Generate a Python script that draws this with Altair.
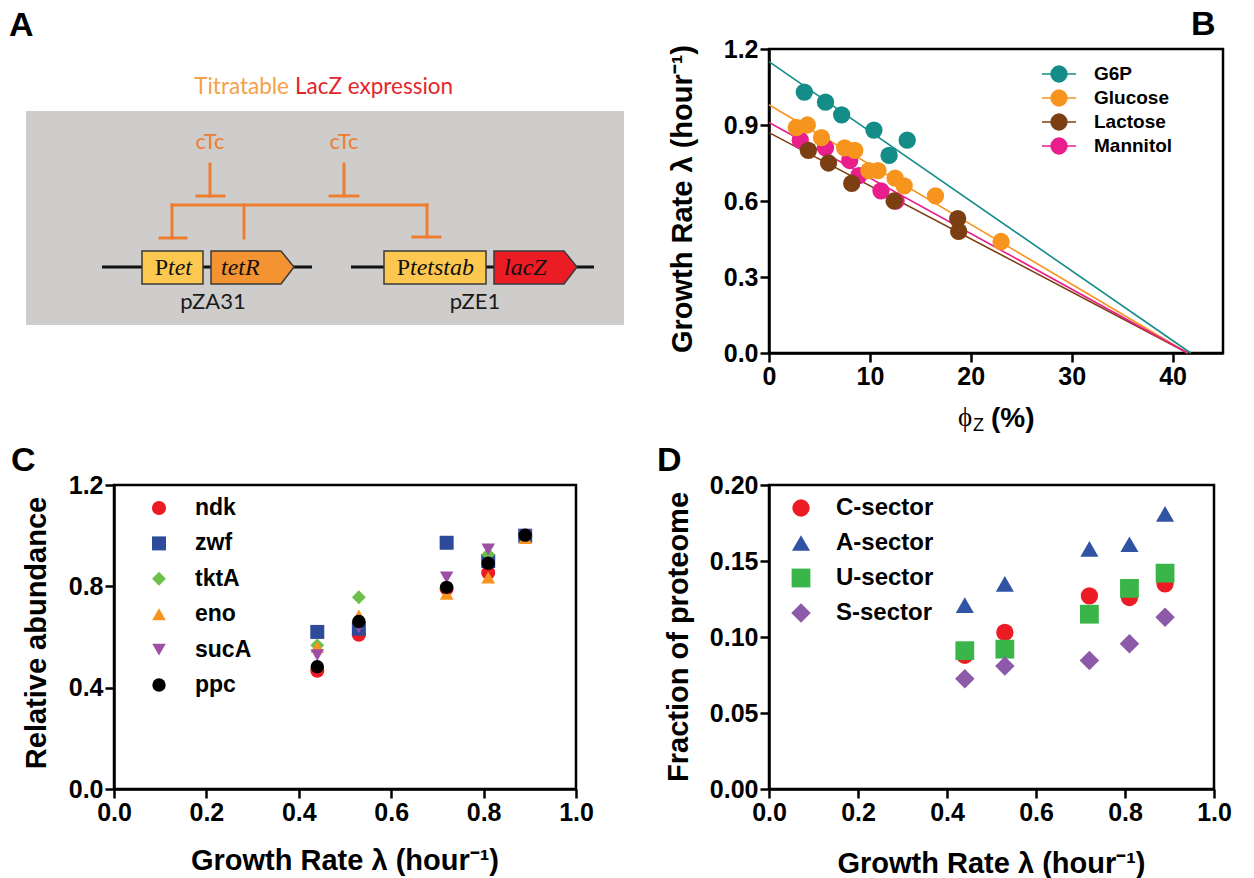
import altair as alt
import pandas as pd

SANS = "Liberation Sans, Arial, Helvetica, sans-serif"
SERIF = "Liberation Serif, Times New Roman, DejaVu Serif, serif"
CAL = "Lato, Carlito, Calibri, sans-serif"

# ---------------- Panel B data ----------------
B_SERIES = ["G6P", "Glucose", "Lactose", "Mannitol"]
B_COLORS = ["#148c87", "#f7941e", "#7b3f12", "#e91e8c"]
g6p_phi = [3.5, 5.6, 7.2, 10.4, 11.9, 13.7]
g6p_rate = [1.03, 0.99, 0.94, 0.88, 0.78, 0.84]
glucose_phi = [2.7, 3.8, 5.2, 7.5, 8.5, 9.9, 10.8, 12.5, 13.4, 16.5, 23.0]
glucose_rate = [0.89, 0.90, 0.85, 0.81, 0.80, 0.72, 0.72, 0.69, 0.66, 0.62, 0.44]
lactose_phi = [3.9, 5.9, 8.2, 12.4, 18.7, 18.8]
lactose_rate = [0.80, 0.75, 0.67, 0.60, 0.53, 0.48]
mannitol_phi = [3.1, 5.6, 8.0, 8.9, 11.1, 12.6]
mannitol_rate = [0.84, 0.81, 0.76, 0.70, 0.64, 0.60]
fit_intercept = [1.15, 0.98, 0.87, 0.91]
fit_phi_max = [41.8, 41.5, 41.5, 41.5]
B_XTICKS = [0, 10, 20, 30, 40]
B_YTICKS = [0.0, 0.3, 0.6, 0.9, 1.2]

# ---------------- Panel C data ----------------
C_RATE = [0.44, 0.53, 0.72, 0.81, 0.89]
C_GENES = ["ndk", "zwf", "tktA", "eno", "sucA", "ppc"]
C_COLORS = ["#ed1c24", "#2e4b9b", "#6cc04a", "#f7941d", "#9e4fa5", "#000000"]
C_SHAPES = ["circle", "square", "diamond", "triangle-up", "triangle-down", "circle"]
C_SIZES = [200, 180, 290, 200, 200, 200]
ndk = [0.467, 0.609, 0.790, 0.854, 0.998]
zwf = [0.620, 0.633, 0.972, 0.900, 1.000]
tktA = [0.567, 0.757, 0.790, 0.926, 1.000]
eno = [0.561, 0.685, 0.770, 0.835, 0.991]
sucA = [0.528, 0.639, 0.835, 0.946, 1.000]
ppc = [0.483, 0.661, 0.796, 0.891, 1.002]
C_XTICKS = [0.0, 0.2, 0.4, 0.6, 0.8, 1.0]
C_YTICKS = [0.0, 0.4, 0.8, 1.2]

# ---------------- Panel D data ----------------
D_RATE = [0.44, 0.53, 0.72, 0.81, 0.89]
D_SECTORS = ["C-sector", "A-sector", "U-sector", "S-sector"]
D_COLORS = ["#ed1c24", "#3153a4", "#39b54a", "#8c5aa8"]
D_SHAPES = ["circle", "triangle-up", "square", "diamond"]
D_SIZES = [300, 380, 280, 440]
c_sector = [0.088, 0.103, 0.127, 0.126, 0.135]
a_sector = [0.121, 0.135, 0.158, 0.161, 0.181]
u_sector = [0.091, 0.092, 0.115, 0.132, 0.142]
s_sector = [0.0725, 0.081, 0.0845, 0.0955, 0.113]
D_XTICKS = [0.0, 0.2, 0.4, 0.6, 0.8, 1.0]
D_YTICKS = [0.0, 0.05, 0.10, 0.15, 0.20]

# ---------------- Panel A diagram (diagram units) ----------------
A_BG = {"x0": [0, 25], "y0": [0, 110], "x1": [640, 623], "y1": [440, 324],
        "fill": ["#ffffff", "#cfcdcc"]}
A_BOX = {"x0": [141, 383], "y0": [250, 250], "x1": [202, 485], "y1": [283, 283],
         "fill": ["#fdc84f", "#fdc84f"]}
A_ARROW = {"gene": ["tetR"] * 3 + ["lacZ"] * 3,
           "x": [210, 280, 293, 493, 563, 576],
           "ytop": [250, 250, 266, 250, 250, 266],
           "ybot": [283, 283, 266, 283, 283, 266],
           "fill": ["#f49331"] * 3 + ["#ec1c24"] * 3}
A_DNA = {"x0": [101, 350], "y0": [266, 266], "x1": [311, 593], "y1": [266, 266]}
A_REPRESS = {"x0": [209, 196, 343, 329, 171, 171, 159, 243, 426, 412],
             "y0": [163, 195, 163, 195, 204, 204, 237, 204, 204, 236],
             "x1": [209, 223, 343, 357, 426, 171, 185, 243, 426, 439],
             "y1": [195, 195, 195, 195, 204, 237, 237, 237, 236, 236]}

W_AC, H_ROW = 462, 304
W_B, W_D = 454, 445


def axis(values, fmt):
    return alt.Axis(values=values, format=fmt, title=None, grid=False,
                    labelFlush=False, labelOverlap=False)


def text_layer(text, x, y, size, font=SANS, weight="bold", style="normal",
               angle=0, align="center", baseline="middle", color="black"):
    return alt.Chart(pd.DataFrame({"t": [text]})).mark_text(
        font=font, fontSize=size, fontWeight=weight, fontStyle=style,
        angle=angle, align=align, baseline=baseline, color=color
    ).encode(x=alt.value(x), y=alt.value(y), text="t:N")


def legend_layer(names, colors, shapes, sizes, sym_x, lab_x, y0, step, fsize,
                 line_half=None):
    n = len(names)
    df = pd.DataFrame({"name": names, "idx": list(range(n))})
    ysc = alt.Y("idx:Q", axis=None,
                scale=alt.Scale(domain=[0, n - 1], range=[y0, y0 + step * (n - 1)],
                                nice=False, zero=False))
    col = alt.Color("name:N", scale=alt.Scale(domain=names, range=colors), legend=None)
    base = alt.Chart(df)
    layers = []
    if line_half is not None:
        layers.append(base.mark_rule(strokeWidth=1.6).encode(
            x=alt.value(sym_x - line_half), x2=alt.value(sym_x + line_half), y=ysc, color=col))
    layers.append(base.mark_point(filled=True, opacity=1, strokeWidth=0).encode(
        x=alt.value(sym_x), y=ysc, color=col,
        shape=alt.Shape("name:N", scale=alt.Scale(domain=names, range=shapes), legend=None),
        size=alt.Size("name:N", scale=alt.Scale(domain=names, range=sizes), legend=None)))
    layers.append(base.mark_text(align="left", baseline="middle", font=SANS, fontSize=fsize,
                                 fontWeight="bold", color="black").encode(
        x=alt.value(lab_x), y=ysc, text="name:N"))
    return alt.layer(*layers)


FRAME = alt.ViewBackground(stroke="black", strokeWidth=2.5)

# ---------------- Panel A ----------------
AX = alt.Scale(domain=[113, 113 + W_AC], nice=False, zero=False)
AY = alt.Scale(domain=[48, 48 + H_ROW], nice=False, zero=False, reverse=True)


def ax_(f):
    return alt.X(f, scale=AX, axis=None)


def ay_(f):
    return alt.Y(f, scale=AY, axis=None, stack=None)


def a_text(rows, font, size, weight="normal", style="normal", align="center",
           baseline="alphabetic"):
    df = pd.DataFrame(rows, columns=["t", "x", "y", "c"])
    return alt.Chart(df).mark_text(font=font, fontSize=size, fontWeight=weight,
                                   fontStyle=style, align=align, baseline=baseline).encode(
        x=ax_("x:Q"), y=ay_("y:Q"), text="t:N", color=alt.Color("c:N", scale=None))


a_bg = alt.Chart(pd.DataFrame(A_BG)).mark_rect(opacity=1).encode(
    x=ax_("x0:Q"), x2="x1:Q", y=ay_("y0:Q"), y2="y1:Q", color=alt.Color("fill:N", scale=None))
a_dna = alt.Chart(pd.DataFrame(A_DNA)).mark_rule(color="#111111", strokeWidth=3).encode(
    x=ax_("x0:Q"), x2="x1:Q", y=ay_("y0:Q"), y2="y1:Q")
a_rep = alt.Chart(pd.DataFrame(A_REPRESS)).mark_rule(color="#ed7d31", strokeWidth=3,
                                                     strokeCap="square").encode(
    x=ax_("x0:Q"), x2="x1:Q", y=ay_("y0:Q"), y2="y1:Q")
a_box = alt.Chart(pd.DataFrame(A_BOX)).mark_rect(opacity=1, stroke="#3a3a3a",
                                                 strokeWidth=1.5).encode(
    x=ax_("x0:Q"), x2="x1:Q", y=ay_("y0:Q"), y2="y1:Q", color=alt.Color("fill:N", scale=None))
a_arrow = alt.Chart(pd.DataFrame(A_ARROW)).mark_area(opacity=1, stroke="#3a3a3a",
                                                     strokeWidth=1.5).encode(
    x=ax_("x:Q"), y=ay_("ytop:Q"), y2="ybot:Q", detail="gene:N",
    color=alt.Color("fill:N", scale=None))

a_title_l = a_text([["Titratable", 288, 93, "#f5a04a"]], CAL, 22.5, align="right")
a_title_r = a_text([["LacZ expression", 294, 93, "#e3262b"]], CAL, 22.5, align="left")
a_ctc = a_text([["cTc", 209, 148, "#ed7d31"], ["cTc", 343, 148, "#ed7d31"]], CAL, 22)
a_plasmid = a_text([["pZA31", 212, 308, "#1a1a1a"], ["pZE1", 474, 308, "#1a1a1a"]], CAL, 22)
a_p = a_text([["P", 167, 267, "#111111"], ["P", 409, 267, "#111111"]], SERIF, 24,
             align="right", baseline="middle")
a_ital = a_text([["tet", 167, 267, "#111111"], ["tetR", 220, 267, "#111111"],
                 ["tetstab", 409, 267, "#111111"], ["lacZ", 503, 267, "#111111"]],
                SERIF, 24, style="italic", align="left", baseline="middle")
a_letter = a_text([["A", 8, 35, "#000000"]], SANS, 34, weight="bold", align="left")

panel_a = alt.layer(a_bg, a_dna, a_rep, a_box, a_arrow, a_title_l, a_title_r, a_ctc,
                    a_plasmid, a_p, a_ital, a_letter).properties(
    width=W_AC, height=H_ROW, view=alt.ViewBackground(stroke="transparent"))

# ---------------- Panel B ----------------
b_order = [("Mannitol", mannitol_phi, mannitol_rate), ("Glucose", glucose_phi, glucose_rate),
           ("Lactose", lactose_phi, lactose_rate), ("G6P", g6p_phi, g6p_rate)]
b_pts = pd.DataFrame([{"name": s, "x": x, "y": y}
                      for s, xs, ys in b_order for x, y in zip(xs, ys)])
b_fit = pd.DataFrame({"name": B_SERIES, "x0": [0] * 4, "y0": fit_intercept,
                      "x1": fit_phi_max, "y1": [0] * 4})
BXS = alt.Scale(domain=[0, 45], nice=False, zero=False)
BYS = alt.Scale(domain=[0, 1.2], nice=False, zero=False)
bcol = alt.Color("name:N", scale=alt.Scale(domain=B_SERIES, range=B_COLORS), legend=None)
b_lines = alt.Chart(b_fit).mark_rule(strokeWidth=1.6).encode(
    x=alt.X("x0:Q", scale=BXS, axis=axis(B_XTICKS, "d")), x2="x1:Q",
    y=alt.Y("y0:Q", scale=BYS, axis=axis(B_YTICKS, ".1f")), y2="y1:Q", color=bcol)
b_points = alt.Chart(b_pts).mark_point(filled=True, opacity=1, shape="circle", size=300,
                                       strokeWidth=0).encode(
    x=alt.X("x:Q", scale=BXS, axis=axis(B_XTICKS, "d")),
    y=alt.Y("y:Q", scale=BYS, axis=axis(B_YTICKS, ".1f")), color=bcol)
b_data = alt.layer(b_lines, b_points)
b_leg = legend_layer(B_SERIES, B_COLORS, ["circle"] * 4, [300] * 4, 290, 325, 25, 24, 19,
                     line_half=17)
panel_b = alt.layer(
    b_data, b_leg,
    text_layer("Growth Rate λ (hour⁻¹)", -86, 150, 29, angle=270),
    text_layer("ϕ", 196, 377, 27, font=SERIF, weight="normal", baseline="alphabetic"),
    text_layer("Z", 204, 382, 18, weight="normal", align="left", baseline="alphabetic"),
    text_layer("(%)", 222, 378, 28, align="left", baseline="alphabetic"),
    text_layer("B", 422, -14, 34, align="left", baseline="alphabetic"),
).resolve_scale(y="independent").properties(width=W_B, height=H_ROW, view=FRAME)

# ---------------- Panel C ----------------
c_vals = [ndk, zwf, tktA, eno, sucA, ppc]
c_df = pd.DataFrame([{"name": g, "x": x, "y": y}
                     for g, ys in zip(C_GENES, c_vals) for x, y in zip(C_RATE, ys)])
c_points = alt.Chart(c_df).mark_point(filled=True, opacity=1, strokeWidth=0).encode(
    x=alt.X("x:Q", scale=alt.Scale(domain=[0, 1], nice=False, zero=False),
            axis=axis(C_XTICKS, ".1f")),
    y=alt.Y("y:Q", scale=alt.Scale(domain=[0, 1.2], nice=False, zero=False),
            axis=axis(C_YTICKS, ".1f")),
    color=alt.Color("name:N", scale=alt.Scale(domain=C_GENES, range=C_COLORS), legend=None),
    shape=alt.Shape("name:N", scale=alt.Scale(domain=C_GENES, range=C_SHAPES), legend=None),
    size=alt.Size("name:N", scale=alt.Scale(domain=C_GENES, range=C_SIZES), legend=None))
c_leg = legend_layer(C_GENES, C_COLORS, C_SHAPES, C_SIZES, 45, 81, 23, 35.4, 23)
panel_c = alt.layer(
    c_points, c_leg,
    text_layer("Relative abundance", -77, 148, 29, angle=270),
    text_layer("Growth Rate λ (hour⁻¹)", W_AC / 2, 376, 29),
    text_layer("C", -103, -14, 34, align="left", baseline="alphabetic"),
).resolve_scale(y="independent").properties(width=W_AC, height=H_ROW, view=FRAME)

# ---------------- Panel D ----------------
d_vals = [c_sector, a_sector, u_sector, s_sector]
d_df = pd.DataFrame([{"name": s, "x": x, "y": y}
                     for s, ys in zip(D_SECTORS, d_vals) for x, y in zip(D_RATE, ys)])
d_points = alt.Chart(d_df).mark_point(filled=True, opacity=1, strokeWidth=0).encode(
    x=alt.X("x:Q", scale=alt.Scale(domain=[0, 1], nice=False, zero=False),
            axis=axis(D_XTICKS, ".1f")),
    y=alt.Y("y:Q", scale=alt.Scale(domain=[0, 0.2], nice=False, zero=False),
            axis=axis(D_YTICKS, ".2f")),
    color=alt.Color("name:N", scale=alt.Scale(domain=D_SECTORS, range=D_COLORS), legend=None),
    shape=alt.Shape("name:N", scale=alt.Scale(domain=D_SECTORS, range=D_SHAPES), legend=None),
    size=alt.Size("name:N", scale=alt.Scale(domain=D_SECTORS, range=D_SIZES), legend=None))
d_leg = legend_layer(D_SECTORS, D_COLORS, D_SHAPES, D_SIZES, 32, 67, 23, 35, 24)
panel_d = alt.layer(
    d_points, d_leg,
    text_layer("Fraction of proteome", -90, 152, 29, angle=270),
    text_layer("Growth Rate λ (hour⁻¹)", W_D / 2, 379, 29),
    text_layer("D", -112, -14, 34, align="left", baseline="alphabetic"),
).resolve_scale(y="independent").properties(width=W_D, height=H_ROW, view=FRAME)

chart = alt.concat(panel_a, panel_b, panel_c, panel_d, columns=2,
                   spacing={"row": 132, "column": 193}, bounds="flush").resolve_scale(
    color="independent", shape="independent", size="independent"
).properties(
    padding=0, background="white"
).configure_view(stroke="transparent").configure_axis(
    domainColor="black", domainWidth=2.5, tickColor="black", tickWidth=2.5, tickSize=9,
    labelColor="black", labelFont=SANS, labelFontSize=25, labelFontWeight="bold",
    labelPadding=2)

chart.save("out.html", embed_options={"renderer": "svg", "actions": False})
